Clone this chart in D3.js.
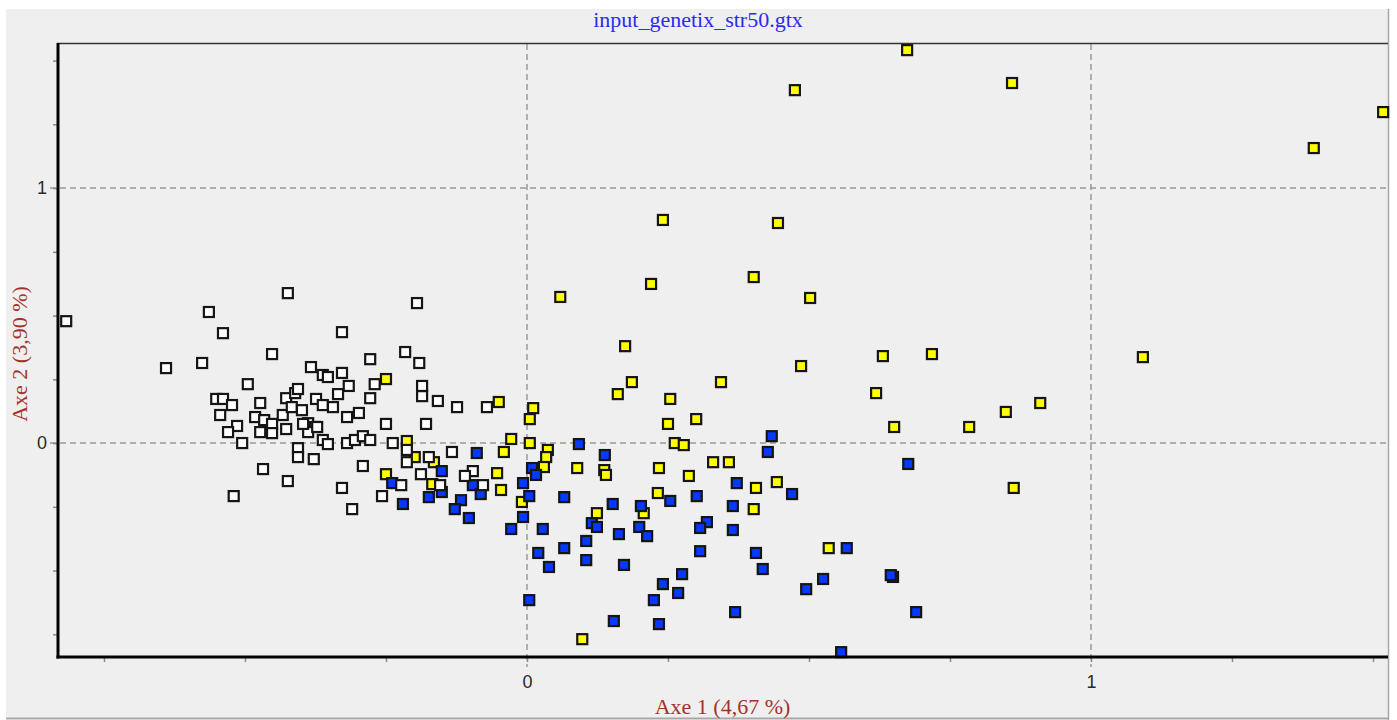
<!DOCTYPE html>
<html>
<head>
<meta charset="utf-8">
<script src="https://cdn.jsdelivr.net/npm/d3@7"></script>
<style>
  body { margin: 0; background: #fff; }
  svg { display: block; }
  .axis-title { font-family: "Liberation Serif", "Times New Roman", serif; font-size: 22px; fill: #a3322c; }
  .chart-title { font-family: "Liberation Serif", "Times New Roman", serif; font-size: 22px; fill: #2b2bf2; }
</style>
</head>
<body>
<svg id="chart" width="1397" height="720"></svg>
<script>
// Chart text
const chartTitle = "input_genetix_str50.gtx";
const xTitle = "Axe 1 (4,67 %)";
const yTitle = "Axe 2 (3,90 %)";

// Tick labels shown on the axes (others are bare ticks)
const labelledTicks = [0, 1];
const gridValues = [0, 1];

// Population 1 (white squares): [axe1, axe2]
const popWhite = [
  [-0.817, 0.478], [-0.640, 0.294], [-0.576, 0.314], [-0.564, 0.514], [-0.539, 0.431],
  [-0.424, 0.588], [-0.195, 0.549], [-0.328, 0.435], [-0.452, 0.349], [-0.383, 0.298],
  [-0.362, 0.267], [-0.353, 0.259], [-0.328, 0.275], [-0.278, 0.329], [-0.216, 0.357],
  [-0.191, 0.314], [-0.495, 0.231], [-0.316, 0.224], [-0.270, 0.231], [-0.186, 0.224],
  [-0.186, 0.184], [-0.158, 0.165], [-0.124, 0.141], [-0.071, 0.141], [-0.551, 0.173],
  [-0.539, 0.173], [-0.523, 0.149], [-0.473, 0.157], [-0.427, 0.176], [-0.411, 0.196],
  [-0.406, 0.212], [-0.374, 0.173], [-0.362, 0.149], [-0.344, 0.141], [-0.335, 0.192],
  [-0.278, 0.176], [-0.544, 0.110], [-0.482, 0.102], [-0.466, 0.090], [-0.452, 0.075],
  [-0.433, 0.110], [-0.417, 0.141], [-0.399, 0.129], [-0.388, 0.078], [-0.376, 0.063],
  [-0.319, 0.102], [-0.298, 0.118], [-0.514, 0.067], [-0.530, 0.043], [-0.473, 0.043],
  [-0.452, 0.039], [-0.427, 0.055], [-0.388, 0.043], [-0.372, 0.063], [-0.250, 0.075],
  [-0.179, 0.075], [-0.362, 0.012], [-0.353, -0.004], [-0.319, 0.000], [-0.305, 0.012],
  [-0.291, 0.027], [-0.278, 0.012], [-0.238, 0.000], [-0.505, 0.000], [-0.406, -0.020],
  [-0.406, -0.055], [-0.378, -0.063], [-0.213, -0.027], [-0.213, -0.075], [-0.174, -0.055],
  [-0.133, -0.035], [-0.291, -0.090], [-0.188, -0.122], [-0.223, -0.165], [-0.257, -0.208],
  [-0.468, -0.102], [-0.424, -0.149], [-0.328, -0.176], [-0.520, -0.208], [-0.310, -0.259],
  [-0.154, -0.165], [-0.096, -0.110], [-0.110, -0.129], [-0.078, -0.165], [-0.397, 0.075]
];

// Population 2 (yellow squares)
const popYellow = [
  [0.674, 1.541], [0.475, 1.384], [0.860, 1.412], [1.518, 1.298], [1.395, 1.157],
  [0.241, 0.875], [0.445, 0.863], [0.402, 0.651], [0.220, 0.624], [0.059, 0.573],
  [0.502, 0.569], [1.092, 0.337], [0.718, 0.349], [0.631, 0.341], [0.486, 0.302],
  [0.174, 0.380], [0.186, 0.239], [0.344, 0.239], [0.161, 0.192], [0.619, 0.196],
  [0.254, 0.173], [0.910, 0.157], [0.849, 0.122], [0.300, 0.094], [0.250, 0.075],
  [0.651, 0.063], [0.784, 0.063], [0.262, 0.000], [0.278, -0.008], [0.234, -0.098],
  [0.287, -0.129], [0.330, -0.075], [0.358, -0.075], [0.232, -0.196], [0.406, -0.176],
  [0.402, -0.259], [0.443, -0.153], [0.535, -0.412], [0.863, -0.176], [-0.250, 0.251],
  [-0.213, 0.008], [-0.199, -0.055], [-0.165, -0.075], [-0.250, -0.122], [-0.168, -0.161],
  [-0.050, 0.161], [0.011, 0.137], [0.005, 0.094], [-0.028, 0.016], [0.005, 0.000],
  [-0.041, -0.035], [0.037, -0.027], [0.034, -0.055], [0.030, -0.094], [-0.053, -0.118],
  [-0.046, -0.184], [-0.009, -0.231], [0.089, -0.098], [0.137, -0.106], [0.140, -0.125],
  [0.124, -0.275], [0.207, -0.275], [0.098, -0.769]
];

// Population 3 (blue squares)
const popBlue = [
  [-0.089, -0.039], [-0.151, -0.110], [-0.239, -0.157], [-0.174, -0.212], [-0.151, -0.192],
  [-0.096, -0.165], [-0.082, -0.200], [-0.220, -0.239], [-0.117, -0.224], [-0.128, -0.259],
  [-0.103, -0.294], [0.009, -0.098], [0.016, -0.125], [-0.007, -0.157], [0.004, -0.208],
  [-0.007, -0.290], [-0.028, -0.337], [0.004, -0.616], [0.092, -0.004], [0.138, -0.047],
  [0.066, -0.212], [0.028, -0.337], [0.020, -0.431], [0.039, -0.486], [0.066, -0.412],
  [0.105, -0.384], [0.105, -0.459], [0.152, -0.239], [0.202, -0.247], [0.254, -0.227],
  [0.115, -0.314], [0.124, -0.329], [0.163, -0.357], [0.199, -0.329], [0.213, -0.365],
  [0.172, -0.478], [0.241, -0.553], [0.225, -0.616], [0.275, -0.514], [0.154, -0.698],
  [0.234, -0.710], [0.268, -0.588], [0.434, 0.027], [0.427, -0.035], [0.372, -0.157],
  [0.470, -0.200], [0.301, -0.208], [0.365, -0.247], [0.319, -0.310], [0.307, -0.333],
  [0.365, -0.341], [0.307, -0.424], [0.406, -0.431], [0.418, -0.494], [0.369, -0.663],
  [0.525, -0.533], [0.495, -0.573], [0.557, -0.820], [0.676, -0.082], [0.567, -0.412],
  [0.649, -0.525], [0.645, -0.518], [0.690, -0.663]
];

const groups = [
  { name: "yellow", fill: "#ffff00", points: popYellow },
  { name: "blue", fill: "#0638ff", points: popBlue },
  { name: "white", fill: "#ffffff", points: popWhite }
];

const svg = d3.select('#chart');
const plot = { left: 57, right: 1388, top: 44, bottom: 657 };

const x = d3.scaleLinear().domain([-0.8333, 1.5266]).range([plot.left, plot.right]);
const y = d3.scaleLinear().domain([-0.839, 1.565]).range([plot.bottom, plot.top]);

// Window panel
svg.append('rect')
  .attr('x', 6).attr('y', 9).attr('width', 1383).attr('height', 710)
  .attr('fill', '#efefef');
svg.append('line')
  .attr('x1', 1388.5).attr('x2', 1388.5).attr('y1', 9).attr('y2', 720)
  .attr('stroke', '#a8a8a8').attr('stroke-width', 1.5);
svg.append('line')
  .attr('x1', 6).attr('x2', 1389).attr('y1', 718.5).attr('y2', 718.5)
  .attr('stroke', '#a8a8a8').attr('stroke-width', 2);

// Title
svg.append('text')
  .attr('class', 'chart-title')
  .attr('x', 698).attr('y', 27)
  .attr('text-anchor', 'middle')
  .text(chartTitle);

// Dashed reference lines
const grid = svg.append('g')
  .attr('stroke', '#9a9a9a')
  .attr('stroke-width', 1.5)
  .attr('stroke-dasharray', '6,4');
grid.selectAll('line.vx')
  .data(gridValues)
  .enter().append('line')
  .attr('x1', d => x(d)).attr('x2', d => x(d))
  .attr('y1', plot.top).attr('y2', plot.bottom + 10);
grid.selectAll('line.hy')
  .data(gridValues)
  .enter().append('line')
  .attr('x1', plot.left - 7).attr('x2', plot.right)
  .attr('y1', d => y(d)).attr('y2', d => y(d));

// Axes (minor ticks every 0.25)
const xTicks = d3.range(-0.75, 1.51, 0.25).map(v => +v.toFixed(2));
const yTicks = d3.range(-0.75, 1.51, 0.25).map(v => +v.toFixed(2));

function styleAxis(g) {
  g.select('.domain').remove();
  g.selectAll('.tick line').attr('stroke', '#8a8a8a').attr('stroke-width', 1.5);
  g.selectAll('.tick text')
    .attr('font-family', '"Liberation Sans", Arial, sans-serif')
    .attr('font-size', 18)
    .attr('fill', '#2a2a2a');
}

const xAxis = svg.append('g')
  .attr('transform', `translate(0,${plot.bottom})`)
  .call(d3.axisBottom(x)
    .tickValues(xTicks)
    .tickSize(5)
    .tickPadding(13)
    .tickFormat(d => labelledTicks.includes(d) ? d : ''))
  .call(styleAxis);

const yAxis = svg.append('g')
  .attr('transform', `translate(${plot.left},0)`)
  .call(d3.axisLeft(y)
    .tickValues(yTicks)
    .tickSize(4)
    .tickPadding(6)
    .tickFormat(d => labelledTicks.includes(d) ? d : ''))
  .call(styleAxis);

// Frame top
svg.append('line')
  .attr('x1', plot.left).attr('x2', plot.right)
  .attr('y1', plot.top - 0.5).attr('y2', plot.top - 0.5)
  .attr('stroke', '#333').attr('stroke-width', 1.5);

// Points
const size = 10;
groups.forEach(g => {
  svg.append('g')
    .attr('class', 'pop-' + g.name)
    .selectAll('rect')
    .data(g.points)
    .enter().append('rect')
    .attr('x', d => x(d[0]) - size / 2)
    .attr('y', d => y(d[1]) - size / 2)
    .attr('width', size)
    .attr('height', size)
    .attr('fill', g.fill)
    .attr('stroke', '#151515')
    .attr('stroke-width', 2.2);
});

// Thick left and bottom axis lines
svg.append('line')
  .attr('x1', plot.left + 1).attr('x2', plot.left + 1)
  .attr('y1', plot.top - 1).attr('y2', plot.bottom + 1.5)
  .attr('stroke', '#000').attr('stroke-width', 3);
svg.append('line')
  .attr('x1', plot.left - 0.5).attr('x2', plot.right)
  .attr('y1', plot.bottom).attr('y2', plot.bottom)
  .attr('stroke', '#000').attr('stroke-width', 3);

// Axis titles
svg.append('text')
  .attr('class', 'axis-title')
  .attr('x', (plot.left + plot.right) / 2)
  .attr('y', 714)
  .attr('text-anchor', 'middle')
  .text(xTitle);
svg.append('text')
  .attr('class', 'axis-title')
  .attr('transform', 'translate(27,354) rotate(-90)')
  .attr('text-anchor', 'middle')
  .text(yTitle);
</script>
</body>
</html>
